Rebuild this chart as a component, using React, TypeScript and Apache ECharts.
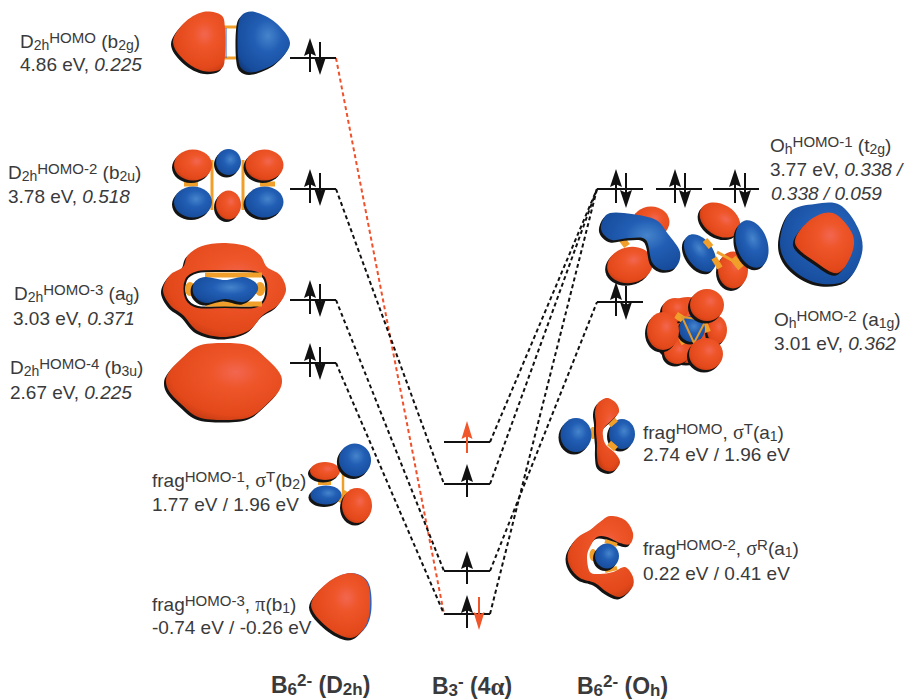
import React, { useEffect, useRef } from "react";
import * as echarts from "echarts";

// ---- diagram data (diagram units on hidden axes) ----
const leftLevelsY = [58, 189, 300, 363];
const leftLevelX = [290, 336];
const centerLevelsY = [442, 484, 571, 614];
const centerLevelX = [444, 490];
const rightLevelStarts = [597, 656, 713];
const rightLevelWidth = 46;
const rightUpperY = 189;
const rightLowerY = 302;
const leftLinks = [
  [58, 614],
  [189, 484],
  [300, 571],
  [363, 614],
];
const rightLinks = [
  [442, 189],
  [484, 189],
  [571, 302],
  [614, 189],
];
const blackArrows = [
  // x, tail, tip
  [310, 72, 38], [320, 42, 75],
  [310, 203, 169], [320, 173, 206],
  [310, 314, 280], [320, 284, 317],
  [310, 377, 343], [320, 347, 380],
  [467, 497, 464],
  [467, 584, 551],
  [467, 628, 595],
  [616, 203, 169], [626, 173, 208],
  [675, 203, 169], [685, 173, 208],
  [735, 203, 169], [745, 173, 208],
  [616, 316, 282], [626, 286, 320],
];
const redArrows = [
  [467, 453, 421],
  [479, 597, 630],
];

const labelsRegular = [
  "{b|D}{s|2h}{u|HOMO}{b| (b}{s|2g}{b|)}",
  "{b|4.86 eV, }{i|0.225}",
  "{b|D}{s|2h}{u|HOMO-2}{b| (b}{s|2u}{b|)}",
  "{b|3.78 eV, }{i|0.518}",
  "{b|D}{s|2h}{u|HOMO-3}{b| (a}{s|g}{b|)}",
  "{b|3.03 eV, }{i|0.371}",
  "{b|D}{s|2h}{u|HOMO-4}{b| (b}{s|3u}{b|)}",
  "{b|2.67 eV, }{i|0.225}",
  "{b|frag}{u|HOMO-1}{b|, }{g|σ}{u|T}{b|(b}{s|2}{b|)}",
  "{b|1.77 eV / 1.96 eV}",
  "{b|frag}{u|HOMO-3}{b|, }{g|π}{b|(b}{s|1}{b|)}",
  "{b|-0.74 eV / -0.26 eV}",
  "{b|O}{s|h}{u|HOMO-1}{b| (t}{s|2g}{b|)}",
  "{b|3.77 eV, }{i|0.338 /}",
  "{i|0.338 / 0.059}",
  "{b|O}{s|h}{u|HOMO-2}{b| (a}{s|1g}{b|)}",
  "{b|3.01 eV, }{i|0.362}",
  "{b|frag}{u|HOMO}{b|, }{g|σ}{u|T}{b|(a}{s|1}{b|)}",
  "{b|2.74 eV / 1.96 eV}",
  "{b|frag}{u|HOMO-2}{b|, }{g|σ}{u|R}{b|(a}{s|1}{b|)}",
  "{b|0.22 eV / 0.41 eV}",
];
const labelAnchors = [
  [20, 41], [20, 64], [8, 172], [8, 196], [14, 293], [13, 318], [10, 367], [10, 392],
  [152, 480], [152, 504], [152, 604], [152, 627],
  [770, 145], [770, 169], [771, 193], [774, 319], [774, 343],
  [643, 432], [643, 454], [643, 548], [643, 573],
];
const titles = [
  "{B|B}{S|6}{U|2-}{B| (D}{S|2h}{B|)}",
  "{B|B}{S|3}{U|-}{B| (4}{G|α}{B|)}",
  "{B|B}{S|6}{U|2-}{B| (O}{S|h}{B|)}",
];
const titleAnchors = [[271, 685], [432, 686], [577, 686]];

// ---- orbital drawing helpers ----
const TEXT = "#3a3a3a";
const SANS = "'Liberation Sans', Arial, sans-serif";
const SERIF = "'Liberation Serif', serif";

function redFill() {
  return new echarts.graphic.RadialGradient(0.6, 0.38, 0.78, [
    { offset: 0, color: "#f26650" },
    { offset: 0.28, color: "#ee5528" },
    { offset: 0.72, color: "#e2481a" },
    { offset: 1, color: "#a82f0e" },
  ]);
}
function blueFill() {
  return new echarts.graphic.RadialGradient(0.58, 0.4, 0.78, [
    { offset: 0, color: "#4684cc" },
    { offset: 0.35, color: "#215eb4" },
    { offset: 0.8, color: "#174c9c" },
    { offset: 1, color: "#0e3068" },
  ]);
}
const fillOf = (c: string) => (c === "r" ? redFill() : blueFill());
const ORANGE = "#f0a02a";

function ell(c: string, cx: number, cy: number, rx: number, ry: number, rot = 0): any[] {
  const r = (rot * Math.PI) / 180;
  return [
    { type: "ellipse", x: cx - 2, y: cy + 2.5, rotation: r, shape: { cx: 0, cy: 0, rx, ry }, style: { fill: "#141414" }, silent: true },
    { type: "ellipse", x: cx, y: cy, rotation: r, shape: { cx: 0, cy: 0, rx, ry }, style: { fill: fillOf(c) }, silent: true },
  ];
}

let shapeCount = 0;
function smoothPath(p: number[][]) {
  const n = p.length;
  let d = `M${p[0][0]},${p[0][1]}`;
  for (let i = 0; i < n; i++) {
    const p0 = p[(i - 1 + n) % n], p1 = p[i], p2 = p[(i + 1) % n], p3 = p[(i + 2) % n];
    const c1x = p1[0] + (p2[0] - p0[0]) / 6, c1y = p1[1] + (p2[1] - p0[1]) / 6;
    const c2x = p2[0] - (p3[0] - p1[0]) / 6, c2y = p2[1] - (p3[1] - p1[1]) / 6;
    d += `C${c1x.toFixed(1)},${c1y.toFixed(1)},${c2x.toFixed(1)},${c2y.toFixed(1)},${p2[0]},${p2[1]}`;
  }
  return d + "Z";
}
function shapeEl(p: number[][], style: any, dx = 0, dy = 0): any {
  const name = "orb" + shapeCount++;
  echarts.graphic.registerShape(name, echarts.graphic.extendPath(smoothPath(p), {}));
  return { type: name, x: dx, y: dy, style, silent: true };
}
function blob(c: string, p: number[][], shadow = "#141414"): any[] {
  return [shapeEl(p, { fill: shadow }, -2, 2.5), shapeEl(p, { fill: fillOf(c) })];
}
function bond(x1: number, y1: number, x2: number, y2: number, w = 3): any {
  return { type: "line", shape: { x1, y1, x2, y2 }, style: { stroke: ORANGE, lineWidth: w }, silent: true };
}
function atom(cx: number, cy: number, rx: number, ry: number): any {
  return { type: "ellipse", shape: { cx, cy, rx, ry }, style: { fill: ORANGE }, silent: true };
}

function orbitals(): any[] {
  const e: any[] = [];
  // b2g
  e.push(bond(222, 27, 241, 27), bond(222, 58, 241, 58));
  e.push({ type: "line", shape: { x1: 226, y1: 28, x2: 226, y2: 58 }, style: { stroke: "#2a62c0", lineWidth: 1 }, silent: true });
  e.push(...blob("r", [[203, 12], [221, 15], [225, 28], [225, 56], [221, 69], [203, 71], [184, 60], [173, 42], [184, 23]]));
  e.push(...blob("b", [[255, 12], [276, 23], [290, 43], [277, 62], [255, 72], [242, 69], [238, 56], [238, 28], [242, 15]]));
  // b2u
  e.push(bond(212, 160, 212, 210, 3), bond(243, 160, 243, 210, 3), bond(184, 184, 198, 184, 5), bond(260, 184, 275, 184, 5));
  e.push(...ell("r", 193, 165, 19, 15.5), ...ell("r", 264.5, 165, 19, 15.5));
  e.push(...ell("b", 193, 202, 19, 15.5), ...ell("b", 264.5, 202, 19, 15.5));
  e.push(...ell("b", 228.5, 162, 12.5, 13), ...ell("r", 228.5, 205, 12.5, 14.5));
  // ag
  const agOuter = [[223, 243], [246, 246], [260, 255], [267, 267], [280, 275], [286, 290], [278, 305], [263, 315], [248, 331], [223, 337], [198, 331], [183, 315], [170, 305], [163, 290], [170, 275], [183, 267], [188, 255], [202, 246]];
  e.push(...blob("r", agOuter));
  e.push(shapeEl([[198, 272], [225, 271], [254, 272], [265, 280], [265, 298], [254, 307], [225, 307], [198, 307], [186, 298], [186, 280]], { fill: "#ffffff", stroke: "#141414", lineWidth: 2 }));
  e.push(bond(205, 275, 262, 275, 5), bond(205, 304, 262, 304, 5));
  e.push(atom(190, 289, 5, 7), atom(260, 289, 5, 7));
  e.push(...blob("b", [[205, 277], [225, 280], [243, 277], [256, 283], [257, 292], [244, 302], [225, 299], [205, 303], [194, 295], [194, 283]]));
  // b3u
  e.push(...blob("r", [[224, 343], [250, 346], [268, 360], [279, 372], [282, 381], [279, 391], [268, 403], [250, 417], [224, 420], [198, 417], [180, 403], [169, 391], [166, 381], [169, 372], [180, 360], [198, 346]]));
  // frag HOMO-1
  e.push(bond(318, 483, 331, 483, 4), bond(343, 470, 343, 497, 2.5), bond(339, 464, 346, 476, 4), bond(339, 502, 346, 491, 4));
  e.push(...ell("r", 325, 471, 15, 9), ...ell("b", 326, 495, 15.5, 9.5));
  e.push(...ell("b", 355, 460, 16, 16.5, 20), ...ell("r", 357, 505.5, 15, 17.5));
  // frag HOMO-3
  e.push(shapeEl([[350, 573], [367, 582], [370.5, 607], [365, 627], [350, 637], [327, 627], [311, 605], [327, 583]], { fill: "#2a62c0" }, 1, 0));
  e.push(...blob("r", [[350, 573], [367, 582], [370, 607], [365, 627], [350, 638], [327, 627], [311, 605], [327, 583]]));
  // sigma T a1
  e.push(atom(593, 433, 3.5, 6));
  e.push(...ell("b", 576, 435, 15.5, 17), ...ell("b", 622, 434, 13, 15));
  e.push(bond(609, 425, 616, 419, 6), bond(609, 443, 616, 449, 6));
  e.push(...blob("r", [[607, 398], [616, 403], [619, 412], [612, 420], [604, 428], [603, 436], [606, 445], [615, 453], [620, 462], [615, 470], [607, 471], [599, 466], [597, 455], [597, 443], [596, 432], [596, 422], [595, 412], [598, 403]]));
  // sigma R a1
  e.push(...blob("r", [[610, 516], [625, 520], [633, 533], [630, 544], [620, 543], [607, 537], [597, 537], [590, 547], [587, 557], [590, 572], [600, 574], [613, 572], [625, 567], [633, 577], [632, 588], [620, 597], [607, 592], [595, 583], [580, 578], [570, 567], [568, 553], [577, 538], [590, 530], [600, 522]]));
  e.push(atom(593, 555, 3.5, 6), bond(605, 541, 617, 545, 4), bond(605, 571, 617, 568, 4));
  e.push(...ell("b", 607, 556, 12, 12.5));
  // t2g 1
  e.push(...ell("r", 651, 222, 18.5, 15.5));
  e.push(bond(621, 238, 627, 246, 7), bond(650, 250, 656, 260, 7), bond(652, 221, 658, 229, 5));
  e.push(...ell("r", 630, 265, 23, 18, 12));
  e.push(...blob("b", [[610, 213], [632, 214], [656, 220], [668, 234], [680, 252], [676, 267], [663, 270], [652, 262], [646, 240], [630, 238], [612, 240], [602, 232], [602, 222]]));
  // t2g 2
  e.push(...ell("b", 700, 253, 13, 21, 35));
  e.push(...ell("r", 733, 270, 15, 18.5));
  e.push(bond(717, 252, 737, 263, 3), bond(737, 226, 744, 232, 6), bond(705, 240, 711, 247, 6), bond(714, 258, 720, 268, 6), bond(733, 258, 741, 268, 7));
  e.push(...ell("r", 720, 220, 22, 15.5, -32));
  e.push(...ell("b", 752, 244, 15.5, 24.5, 18));
  // t2g 3
  e.push(...blob("b", [[780, 243], [790, 212], [815, 204], [840, 205], [858, 228], [862, 253], [847, 280], [817, 283], [790, 267]]));
  e.push(...blob("r", [[795, 243], [810, 220], [833, 213], [852, 233], [852, 253], [838, 273], [817, 263]]));
  // a1g
  e.push(...ell("r", 688, 330, 33, 33));
  e.push(...ell("r", 675, 310, 13, 12), ...ell("r", 717, 330, 10, 14), ...ell("r", 677, 352, 13, 12));
  e.push(bond(676, 315, 684, 320, 7), bond(704, 322, 708, 332, 6), bond(680, 342, 688, 338, 7));
  e.push(...ell("b", 692, 329, 13, 13));
  e.push({ type: "polygon", shape: { points: [[682, 317], [706, 320], [694, 343]] }, style: { fill: "none", stroke: "#e09a30", lineWidth: 2 }, silent: true });
  e.push(...ell("r", 707, 305, 17, 16), ...ell("r", 663, 331, 16, 19), ...ell("r", 706, 354, 17, 16));
  return e;
}

function arrowSeries(rows: number[][], color: string, headW: number, headL: number, lineW: number): any {
  return {
    type: "custom",
    silent: true,
    z: 4,
    encode: { x: 0, y: [1, 2] },
    data: rows,
    renderItem: (_p: any, api: any) => {
      const x = api.value(0);
      const a = api.coord([x, api.value(1)]);
      const b = api.coord([x, api.value(2)]);
      const s = b[1] > a[1] ? 1 : -1;
      return {
        type: "group",
        children: [
          { type: "line", shape: { x1: a[0], y1: a[1], x2: b[0], y2: b[1] - s * headL * 0.5 }, style: { stroke: color, lineWidth: lineW } },
          {
            type: "polygon",
            shape: {
              points: [
                [b[0], b[1]],
                [b[0] - headW / 2, b[1] - s * headL],
                [b[0], b[1] - s * headL * 0.85],
                [b[0] + headW / 2, b[1] - s * headL],
              ],
            },
            style: { fill: color },
          },
        ],
      };
    },
  };
}

function levelSeries(x0: number, x1: number, y: number): any {
  return {
    type: "line", silent: true, symbol: "none", z: 3,
    lineStyle: { color: "#111", width: 2 },
    data: [[x0, y], [x1, y]],
  };
}
function linkSeries(x0: number, y0: number, x1: number, y1: number, color: string): any {
  return {
    type: "line", silent: true, symbol: "none", z: 2,
    lineStyle: { color, width: 2, type: [4, 3] },
    data: [[x0, y0], [x1, y1]],
  };
}

const baseRich: any = {
  b: { fontFamily: SANS, fontSize: 19, lineHeight: 22, fill: TEXT },
  i: { fontFamily: SANS, fontSize: 19, lineHeight: 22, fill: TEXT, fontStyle: "italic" },
  g: { fontFamily: SERIF, fontSize: 20, lineHeight: 22, fill: TEXT },
  u: { fontFamily: SANS, fontSize: 15, lineHeight: 13, fill: TEXT, verticalAlign: "top" },
  s: { fontFamily: SANS, fontSize: 14, lineHeight: 12, fill: TEXT, verticalAlign: "bottom" },
  B: { fontFamily: SANS, fontSize: 23, lineHeight: 26, fontWeight: "bold", fill: TEXT },
  G: { fontFamily: SERIF, fontSize: 25, lineHeight: 26, fontWeight: "bold", fill: TEXT },
  U: { fontFamily: SANS, fontSize: 17, lineHeight: 14, fontWeight: "bold", fill: TEXT, verticalAlign: "top" },
  S: { fontFamily: SANS, fontSize: 17, lineHeight: 14, fontWeight: "bold", fill: TEXT, verticalAlign: "bottom" },
};

function textEl(text: string, x: number, y: number): any {
  return {
    type: "text", x, y, silent: true, z: 20,
    style: { text, rich: baseRich, verticalAlign: "middle", align: "left", fontFamily: SANS, fontSize: 19, fill: TEXT },
  };
}

export default function App() {
  const ref = useRef<HTMLDivElement>(null);
  useEffect(() => {
    const chart = echarts.init(ref.current!, undefined, { renderer: "svg" });
    const series: any[] = [
      ...leftLevelsY.map((y) => levelSeries(leftLevelX[0], leftLevelX[1], y)),
      ...centerLevelsY.map((y) => levelSeries(centerLevelX[0], centerLevelX[1], y)),
      ...rightLevelStarts.map((x) => levelSeries(x, x + rightLevelWidth, rightUpperY)),
      levelSeries(rightLevelStarts[0], rightLevelStarts[0] + rightLevelWidth, rightLowerY),
      ...leftLinks.map(([a, b], i) => linkSeries(leftLevelX[1], a, centerLevelX[0], b, i === 0 ? "#f0502a" : "#111")),
      ...rightLinks.map(([a, b]) => linkSeries(centerLevelX[1], a, rightLevelStarts[0], b, "#111")),
      arrowSeries(blackArrows, "#111", 12, 18, 2),
      arrowSeries(redArrows, "#f0562a", 11, 18, 2),
    ];
    chart.setOption({
      animation: false,
      backgroundColor: "#ffffff",
      grid: { left: 0, right: 0, top: 0, bottom: 0 },
      xAxis: { type: "value", min: 0, max: 907, show: false },
      yAxis: { type: "value", min: 0, max: 699, inverse: true, show: false },
      series,
      graphic: {
        elements: [
          { type: "group", z: 10, children: orbitals() },
          ...labelsRegular.map((t, i) => textEl(t, labelAnchors[i][0], labelAnchors[i][1])),
          ...titles.map((t, i) => textEl(t, titleAnchors[i][0], titleAnchors[i][1])),
        ],
      },
    });
    return () => chart.dispose();
  }, []);
  return <div ref={ref} style={{ position: "fixed", left: 0, top: 0, width: 907, height: 699, background: "#fff" }} />;
}
